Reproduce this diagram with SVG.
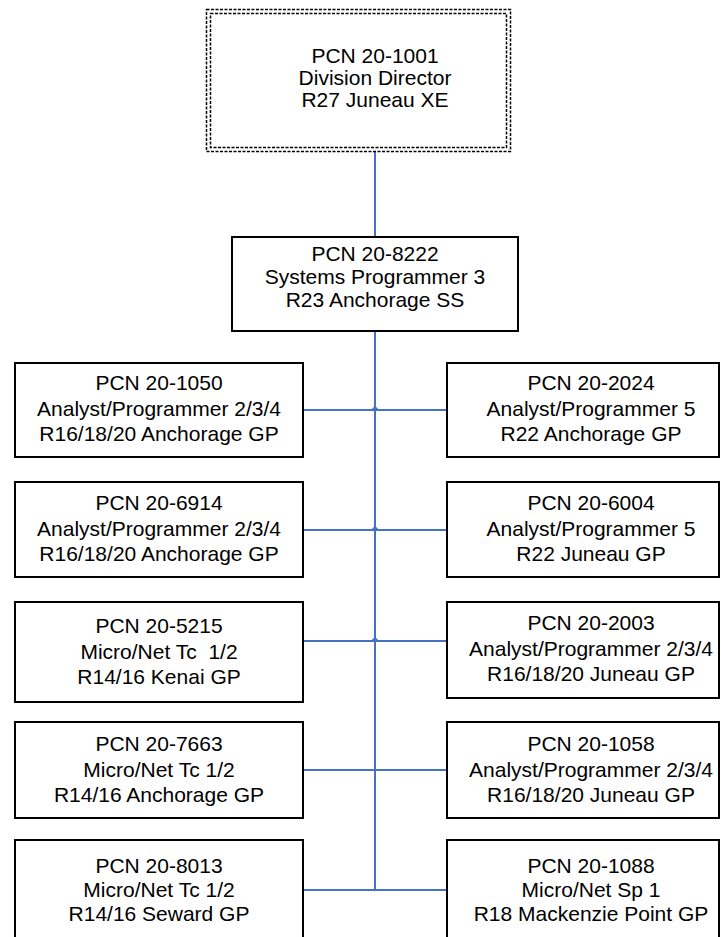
<svg xmlns="http://www.w3.org/2000/svg" width="721" height="937" viewBox="0 0 721 937">
<style>
.box{fill:#fff;stroke:#000;stroke-width:2}
.dash{fill:none;stroke:#000;stroke-width:1.5;stroke-dasharray:3 1.5}
.conn{fill:none;stroke:#4472C4;stroke-width:2}
text{font-family:"Liberation Sans",Arial,sans-serif;font-size:21px;fill:#000;text-anchor:middle}
</style>
<rect width="721" height="937" fill="#fff"/>
<g id="connectors">
<path class="conn" d="M375,152 V237"/>
<path class="conn" d="M375,331 V890"/>
<path class="conn" d="M303,410 H373 a2,2 0 0 1 4,0 H447"/>
<path class="conn" d="M303,530 H373 a2,2 0 0 1 4,0 H447"/>
<path class="conn" d="M303,652 V641 H373 a2,2 0 0 1 4,0 H447 V650"/>
<path class="conn" d="M303,770 H447"/>
<path class="conn" d="M303,890 H447"/>
</g>
<g id="n1001">
<rect x="206.5" y="9.5" width="304" height="142" fill="#fff" class="dash"/>
<rect x="210.5" y="13.5" width="296" height="134" class="dash"/>
<text x="375" y="63">PCN 20-1001</text>
<text x="375" y="85">Division Director</text>
<text x="375" y="107">R27 Juneau XE</text>
</g>
<g id="n8222">
<rect class="box" x="232" y="237" width="286" height="94"/>
<text x="375" y="261">PCN 20-8222</text>
<text x="375" y="284">Systems Programmer 3</text>
<text x="375" y="307">R23 Anchorage SS</text>
</g>
<g id="n1050">
<rect class="box" x="15" y="363" width="288" height="94"/>
<text x="159" y="390">PCN 20-1050</text>
<text x="159" y="416">Analyst/Programmer 2/3/4</text>
<text x="159" y="441">R16/18/20 Anchorage GP</text>
</g>
<g id="n2024">
<rect class="box" x="447" y="363" width="272" height="94"/>
<text x="591" y="390">PCN 20-2024</text>
<text x="591" y="416">Analyst/Programmer 5</text>
<text x="591" y="441">R22 Anchorage GP</text>
</g>
<g id="n6914">
<rect class="box" x="15" y="482" width="288" height="95"/>
<text x="159" y="510">PCN 20-6914</text>
<text x="159" y="536">Analyst/Programmer 2/3/4</text>
<text x="159" y="561">R16/18/20 Anchorage GP</text>
</g>
<g id="n6004">
<rect class="box" x="447" y="482" width="272" height="95"/>
<text x="591" y="510">PCN 20-6004</text>
<text x="591" y="536">Analyst/Programmer 5</text>
<text x="591" y="561">R22 Juneau GP</text>
</g>
<g id="n5215">
<rect class="box" x="15" y="602" width="288" height="100"/>
<text x="159" y="633">PCN 20-5215</text>
<text x="159" y="659" xml:space="preserve">Micro/Net Tc  1/2</text>
<text x="159" y="684">R14/16 Kenai GP</text>
</g>
<g id="n2003">
<rect class="box" x="447" y="602" width="272" height="96"/>
<text x="591" y="630">PCN 20-2003</text>
<text x="591" y="656">Analyst/Programmer 2/3/4</text>
<text x="591" y="681">R16/18/20 Juneau GP</text>
</g>
<g id="n7663">
<rect class="box" x="15" y="722" width="288" height="96"/>
<text x="159" y="751">PCN 20-7663</text>
<text x="159" y="777">Micro/Net Tc 1/2</text>
<text x="159" y="802">R14/16 Anchorage GP</text>
</g>
<g id="n1058">
<rect class="box" x="447" y="722" width="272" height="96"/>
<text x="591" y="751">PCN 20-1058</text>
<text x="591" y="777">Analyst/Programmer 2/3/4</text>
<text x="591" y="802">R16/18/20 Juneau GP</text>
</g>
<g id="n8013">
<rect class="box" x="15" y="840" width="288" height="110"/>
<text x="159" y="873">PCN 20-8013</text>
<text x="159" y="897">Micro/Net Tc 1/2</text>
<text x="159" y="921">R14/16 Seward GP</text>
</g>
<g id="n1088">
<rect class="box" x="447" y="840" width="272" height="110"/>
<text x="591" y="873">PCN 20-1088</text>
<text x="591" y="897">Micro/Net Sp 1</text>
<text x="591" y="921">R18 Mackenzie Point GP</text>
</g>
</svg>
